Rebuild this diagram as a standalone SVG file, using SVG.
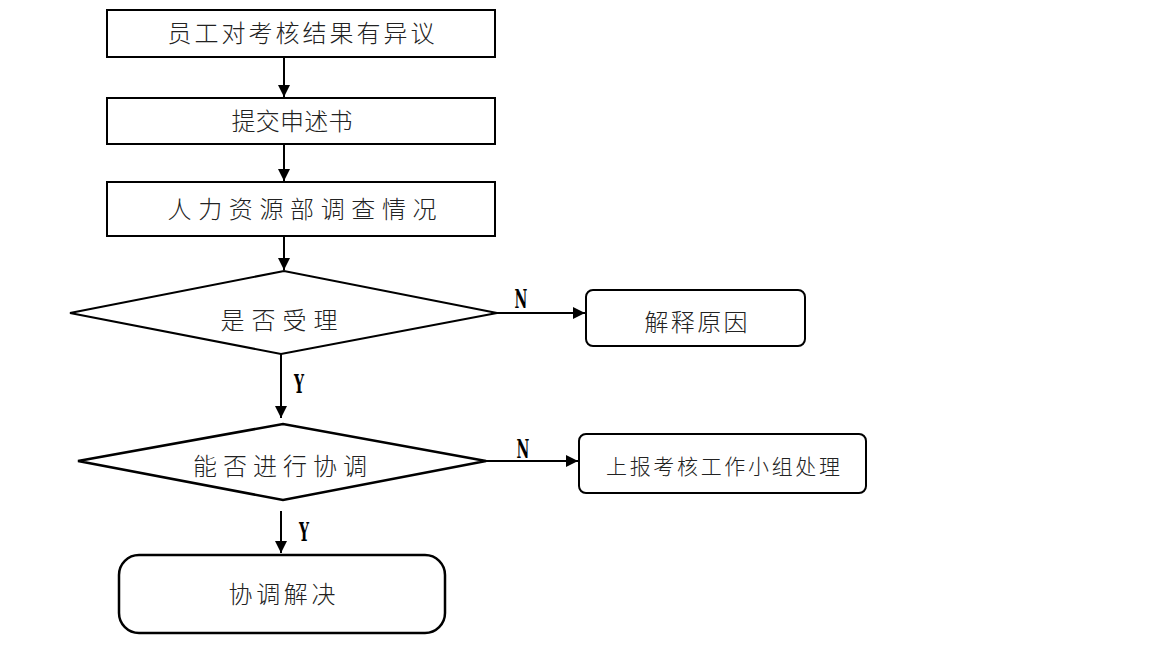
<svg xmlns="http://www.w3.org/2000/svg" width="1152" height="648" viewBox="0 0 1152 648">
<defs>
<marker id="ahs" viewBox="0 0 10 10" markerWidth="14" markerHeight="12" refX="10" refY="5" orient="auto" markerUnits="userSpaceOnUse"><path d="M0,0 L10,5 L0,10 z" fill="#000"/></marker>
<style>
.b{fill:#fff;stroke:#000;stroke-width:2}
.t{font-family:"Noto Sans CJK SC","Noto Sans CJK JP",sans-serif;font-size:24px;font-weight:300;fill:#222;text-anchor:middle}
.l{font-family:"DejaVu Serif Condensed","Liberation Serif",serif;font-size:26px;font-weight:bold;fill:#000;text-anchor:middle}
.c{stroke:#000;stroke-width:2;fill:none}
</style>
</defs>
<rect width="1152" height="648" fill="#fff"/>
<g id="n1"><rect class="b" x="107" y="10" width="388" height="47"/><text class="t" x="301" y="42" textLength="267" lengthAdjust="spacing">员工对考核结果有异议</text></g>
<g id="n2"><rect class="b" x="107" y="98" width="388" height="46"/><text class="t" x="292" y="130" textLength="121" lengthAdjust="spacing">提交申述书</text></g>
<g id="n3"><rect class="b" x="107" y="182" width="388" height="54"/><text class="t" x="302" y="218" textLength="269" lengthAdjust="spacing">人力资源部调查情况</text></g>
<g id="n4"><polygon class="b" points="70,313 284,271 497,313 281,354"/><text class="t" x="279" y="329" textLength="117" lengthAdjust="spacing">是否受理</text></g>
<g id="n5"><rect class="b" x="586" y="290" width="219" height="56" rx="7"/><text class="t" x="696" y="331" textLength="103" lengthAdjust="spacing">解释原因</text></g>
<g id="n6"><polygon class="b" style="stroke-width:2.5" points="78,461 283,424 486,461 283,500"/><text class="t" x="280" y="475" textLength="174" lengthAdjust="spacing">能否进行协调</text></g>
<g id="n7"><rect class="b" x="579" y="434" width="287" height="59" rx="7"/><text class="t" x="723" y="474" textLength="234" lengthAdjust="spacing" style="font-size:21px">上报考核工作小组处理</text></g>
<g id="n8"><rect class="b" style="stroke-width:2.5" x="119" y="555" width="326" height="78" rx="20"/><text class="t" x="282" y="603" textLength="107" lengthAdjust="spacing">协调解决</text></g>
<g id="edges">
<line class="c" x1="284" y1="57" x2="284" y2="97" marker-end="url(#ahs)"/>
<line class="c" x1="284" y1="144" x2="284" y2="181" marker-end="url(#ahs)"/>
<line class="c" x1="284" y1="236" x2="284" y2="270" marker-end="url(#ahs)"/>
<line class="c" x1="497" y1="313" x2="585" y2="313" marker-end="url(#ahs)"/>
<line class="c" x1="281" y1="354" x2="281" y2="418" marker-end="url(#ahs)"/>
<line class="c" x1="486" y1="461" x2="578" y2="461" marker-end="url(#ahs)"/>
<line class="c" x1="281" y1="511" x2="281" y2="553" marker-end="url(#ahs)"/>
<text class="l" x="521" y="308" transform="translate(521 0) scale(0.6 1) translate(-521 0)">N</text>
<text class="l" x="299" y="393" transform="translate(299 0) scale(0.6 1) translate(-299 0)">Y</text>
<text class="l" x="523" y="458" transform="translate(523 0) scale(0.6 1) translate(-523 0)">N</text>
<text class="l" x="304" y="541" transform="translate(304 0) scale(0.6 1) translate(-304 0)">Y</text>
</g>
</svg>
